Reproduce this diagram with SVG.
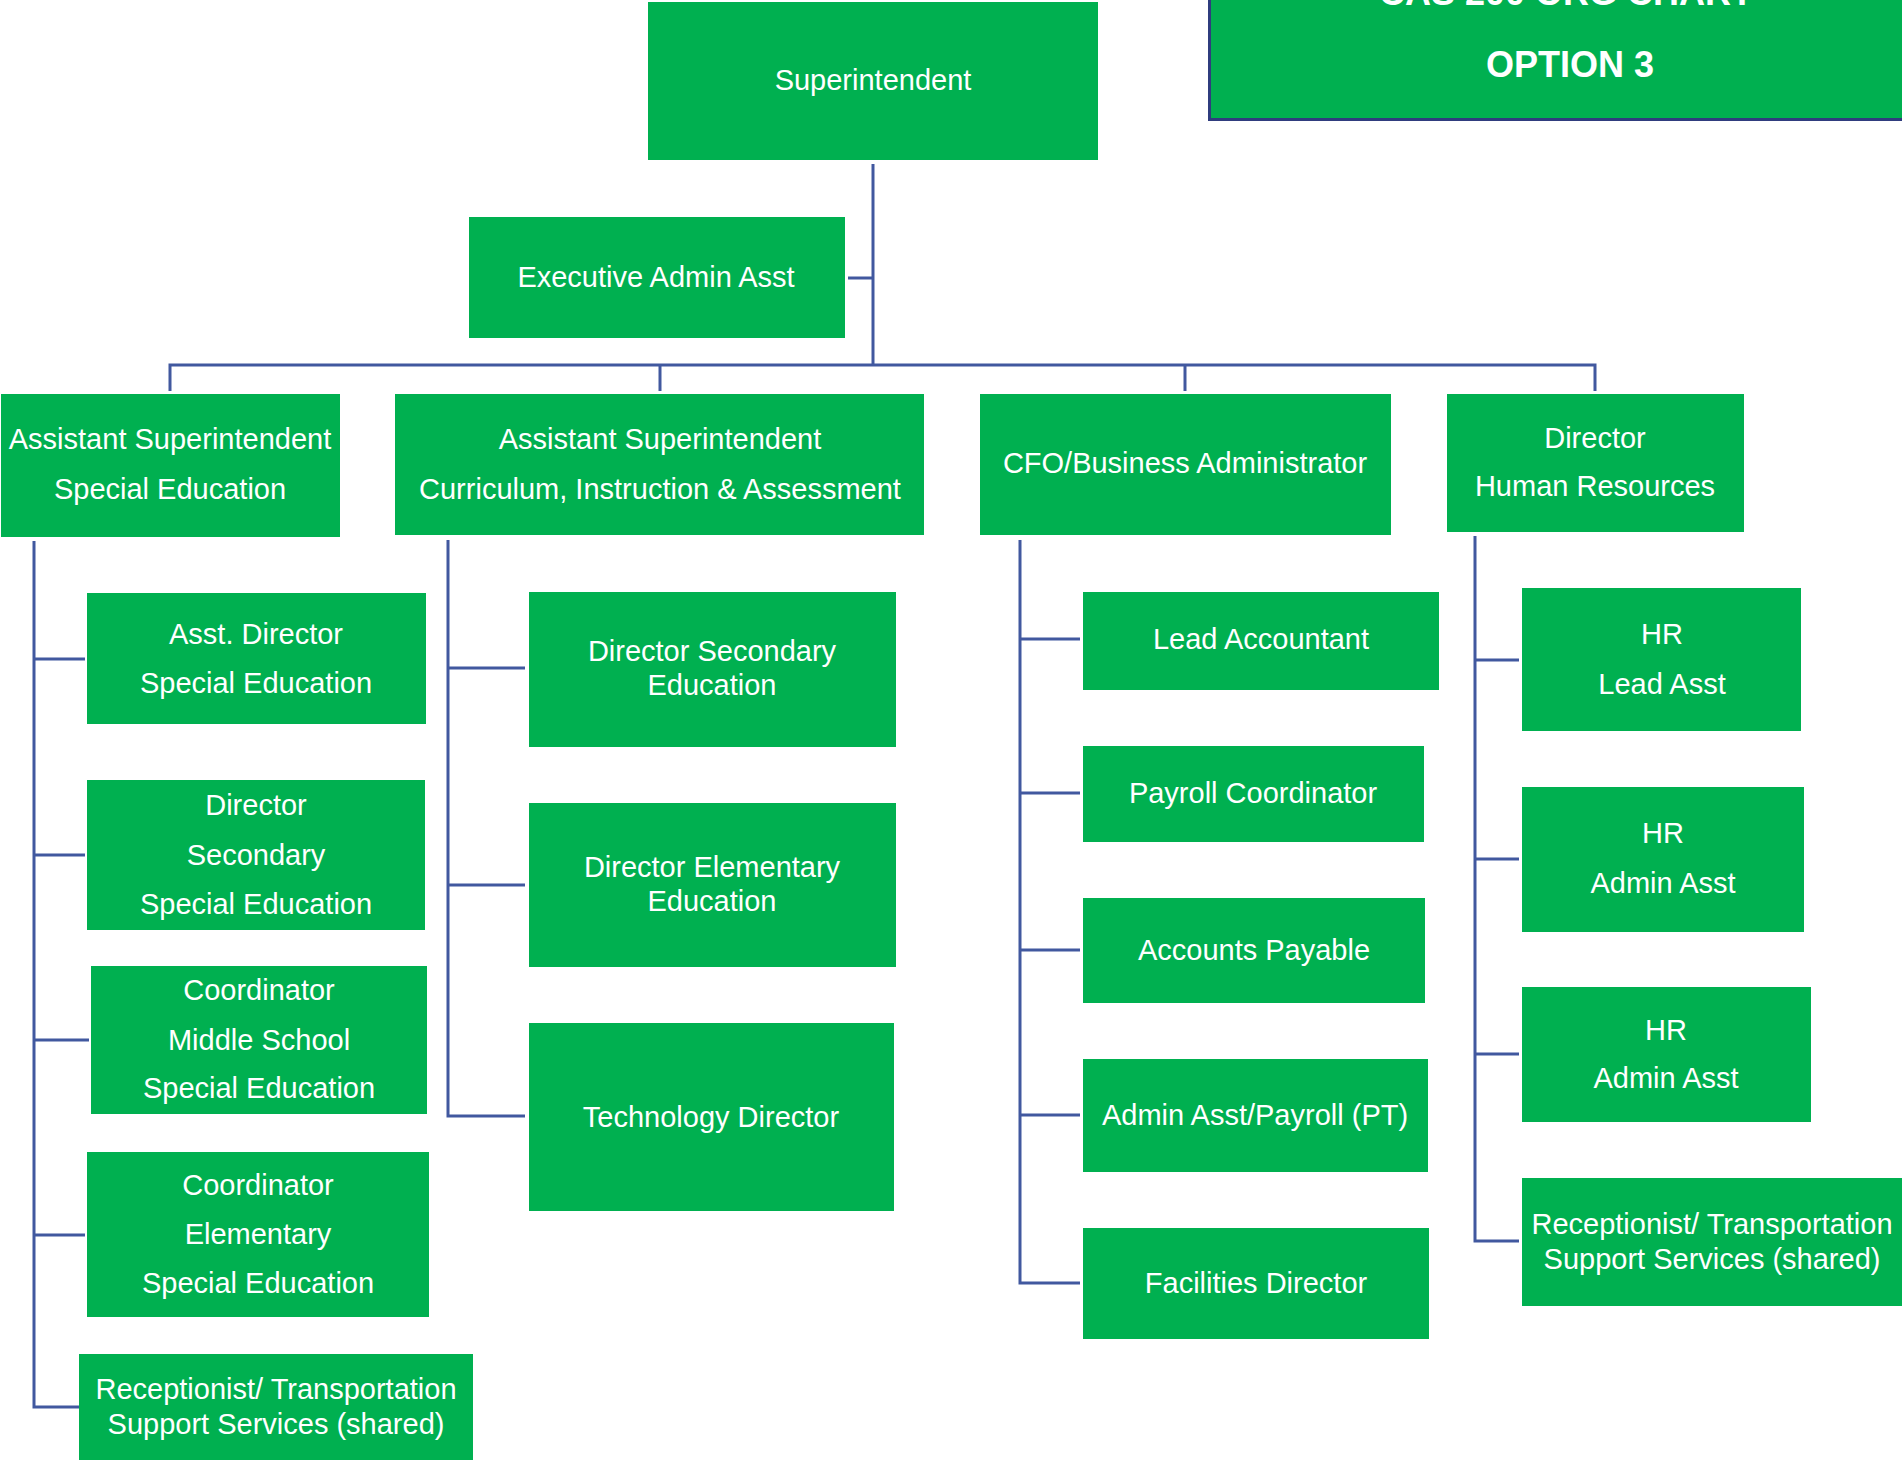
<svg xmlns="http://www.w3.org/2000/svg" width="1902" height="1460" viewBox="0 0 1902 1460">
<style>
.box{fill:#00B050}
.t{font-family:"Liberation Sans",Arial,sans-serif;font-size:29px;fill:#ffffff;text-anchor:middle}
.ttl{font-family:"Liberation Sans",Arial,sans-serif;font-size:36px;font-weight:bold;fill:#ffffff;text-anchor:middle}
.ln{stroke:#41589F;stroke-width:3;fill:none}
</style>
<rect width="1902" height="1460" fill="#ffffff"/>
<g id="title">
<rect x="1208" y="-5" width="700" height="126" fill="#00B050"/>
<path d="M1209.5,-5 V119.5 H1908" stroke="#2F3C7E" stroke-width="3" fill="none"/>
<text class="ttl" x="1566" y="5">CAS 200 ORG CHART</text>
<text class="ttl" x="1570" y="77">OPTION 3</text>
</g>
<g id="connectors">
<path class="ln" d="M873,164 V365"/>
<path class="ln" d="M848,278 H873"/>
<path class="ln" d="M170,391 V365 H1595 V391"/>
<path class="ln" d="M660,365 V391"/>
<path class="ln" d="M1185,365 V391"/>
<path class="ln" d="M34,541 V1407 H85"/>
<path class="ln" d="M34,659 H85 M34,855 H85 M34,1040 H89 M34,1235 H85"/>
<path class="ln" d="M448,540 V1116 H525"/>
<path class="ln" d="M448,668 H525 M448,885 H525"/>
<path class="ln" d="M1020,540 V1283 H1080"/>
<path class="ln" d="M1020,639 H1080 M1020,793 H1080 M1020,950 H1080 M1020,1115 H1080"/>
<path class="ln" d="M1475,536 V1241 H1519"/>
<path class="ln" d="M1475,660 H1519 M1475,859 H1519 M1475,1054 H1519"/>
</g>
<g id="superintendent"><rect class="box" x="648" y="2" width="450" height="158"/><text class="t" x="873" y="90">Superintendent</text></g>
<g id="exec-admin"><rect class="box" x="469" y="217" width="376" height="121"/><text class="t" x="656" y="287">Executive Admin Asst</text></g>
<g id="asst-supt-sped"><rect class="box" x="1" y="394" width="339" height="143"/><text class="t" x="170" y="449">Assistant Superintendent</text><text class="t" x="170" y="499">Special Education</text></g>
<g id="asst-supt-cia"><rect class="box" x="395" y="394" width="529" height="141"/><text class="t" x="660" y="449">Assistant Superintendent</text><text class="t" x="660" y="499">Curriculum, Instruction &amp; Assessment</text></g>
<g id="cfo"><rect class="box" x="980" y="394" width="411" height="141"/><text class="t" x="1185" y="473">CFO/Business Administrator</text></g>
<g id="dir-hr"><rect class="box" x="1447" y="394" width="297" height="138"/><text class="t" x="1595" y="448">Director</text><text class="t" x="1595" y="496">Human Resources</text></g>
<g id="asst-dir-sped"><rect class="box" x="87" y="593" width="339" height="131"/><text class="t" x="256" y="644">Asst. Director</text><text class="t" x="256" y="693">Special Education</text></g>
<g id="dir-sec-sped"><rect class="box" x="87" y="780" width="338" height="150"/><text class="t" x="256" y="815">Director</text><text class="t" x="256" y="865">Secondary</text><text class="t" x="256" y="914">Special Education</text></g>
<g id="coord-ms-sped"><rect class="box" x="91" y="966" width="336" height="148"/><text class="t" x="259" y="1000">Coordinator</text><text class="t" x="259" y="1050">Middle School</text><text class="t" x="259" y="1098">Special Education</text></g>
<g id="coord-elem-sped"><rect class="box" x="87" y="1152" width="342" height="165"/><text class="t" x="258" y="1195">Coordinator</text><text class="t" x="258" y="1244">Elementary</text><text class="t" x="258" y="1293">Special Education</text></g>
<g id="receptionist-left"><rect class="box" x="79" y="1354" width="394" height="110"/><text class="t" x="276" y="1399">Receptionist/ Transportation</text><text class="t" x="276" y="1434">Support Services (shared)</text></g>
<g id="dir-sec-ed"><rect class="box" x="529" y="592" width="367" height="155"/><text class="t" x="712" y="661">Director Secondary</text><text class="t" x="712" y="695">Education</text></g>
<g id="dir-elem-ed"><rect class="box" x="529" y="803" width="367" height="164"/><text class="t" x="712" y="877">Director Elementary</text><text class="t" x="712" y="911">Education</text></g>
<g id="tech-dir"><rect class="box" x="529" y="1023" width="365" height="188"/><text class="t" x="711" y="1127">Technology Director</text></g>
<g id="lead-accountant"><rect class="box" x="1083" y="592" width="356" height="98"/><text class="t" x="1261" y="649">Lead Accountant</text></g>
<g id="payroll-coord"><rect class="box" x="1083" y="746" width="341" height="96"/><text class="t" x="1253" y="803">Payroll Coordinator</text></g>
<g id="accounts-payable"><rect class="box" x="1083" y="898" width="342" height="105"/><text class="t" x="1254" y="960">Accounts Payable</text></g>
<g id="admin-payroll"><rect class="box" x="1083" y="1059" width="345" height="113"/><text class="t" x="1255" y="1125">Admin Asst/Payroll (PT)</text></g>
<g id="facilities-dir"><rect class="box" x="1083" y="1228" width="346" height="111"/><text class="t" x="1256" y="1293">Facilities Director</text></g>
<g id="hr-lead"><rect class="box" x="1522" y="588" width="279" height="143"/><text class="t" x="1662" y="644">HR</text><text class="t" x="1662" y="694">Lead Asst</text></g>
<g id="hr-admin-1"><rect class="box" x="1522" y="787" width="282" height="145"/><text class="t" x="1663" y="843">HR</text><text class="t" x="1663" y="893">Admin Asst</text></g>
<g id="hr-admin-2"><rect class="box" x="1522" y="987" width="289" height="135"/><text class="t" x="1666" y="1040">HR</text><text class="t" x="1666" y="1088">Admin Asst</text></g>
<g id="receptionist-right"><rect class="box" x="1522" y="1178" width="385" height="128"/><text class="t" x="1712" y="1234">Receptionist/ Transportation</text><text class="t" x="1712" y="1269">Support Services (shared)</text></g>
</svg>
